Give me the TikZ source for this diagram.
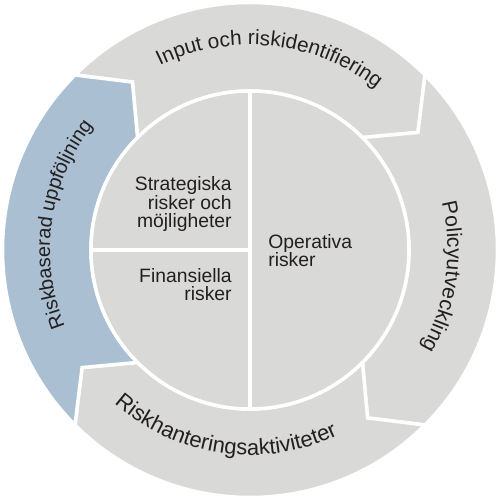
\documentclass[tikz,border=0pt]{standalone}
\usepackage{fontspec}
\setmainfont{Liberation Sans}
\usetikzlibrary{decorations.text}
\definecolor{ringgray}{RGB}{217,217,216}
\definecolor{ringblue}{RGB}{170,191,209}
\definecolor{ink}{RGB}{35,31,32}
\newcommand{\ringfont}[1]{\fontsize{#1}{12}\selectfont}

\begin{document}
\begin{tikzpicture}[
  segment/.style={draw=white, line width=0.07cm, line join=miter},
  divider/.style={draw=white, line width=0.07cm},
  label/.style={font=\fontsize{11}{10.8}\selectfont, text=ink, inner sep=0pt},
  ringtext/.style 2 args={decorate, decoration={text along path, text align=center, text color=ink, text={|\ringfont{#1}|#2}}}
]
  \useasboundingbox (-5,-5) rectangle (5,5);

  % Outer ring segments
  \foreach \a/\col in {135/ringgray, 45/ringgray, -45/ringgray, 225/ringblue}{
    \filldraw[segment, fill=\col] (\a:3.18) -- (\a-10:4.1) -- (\a:4.95)
      arc[start angle=\a, end angle=\a-90, radius=4.95]
      -- (\a-100:4.1) -- (\a-90:3.18)
      arc[start angle=\a-90, end angle=\a, radius=3.18] -- cycle;
  }

  % Ring labels
  \path[ringtext={11.8}{Input och riskidentifiering}] (150:4.1) arc[start angle=150, end angle=18, radius=4.1];
  \path[ringtext={12}{Policyutveckling}] (52:3.95) arc[start angle=52, end angle=-68, radius=3.95];
  \path[ringtext={12.5}{Riskhanteringsaktiviteter}] (192:4.1) arc[start angle=192, end angle=332, radius=4.1];
  \path[ringtext={11.3}{Riskbaserad uppföljning}] (242:4.0) arc[start angle=242, end angle=102, radius=4.0];

  % Inner circle
  \filldraw[fill=ringgray, draw=white, line width=0.07cm] (0,0) circle (3.18);
  \coordinate (ctop) at (90:3.18);
  \coordinate (cbottom) at (270:3.18);
  \coordinate (cleft) at (180:3.18);
  \coordinate (ccentre) at (0,0);
  \draw[divider] (ctop) -- (cbottom);
  \draw[divider] (cleft) -- (ccentre);

  % Risk categories
  \node[label, align=right, anchor=base east] (strat) at (-0.36,0.44) {Strategiska\\risker och\\möjligheter};
  \node[label, align=right, anchor=base east] (fin) at (-0.36,-1.02) {Finansiella\\risker};
  \node[label, align=left, anchor=base west] (oper) at (0.36,-0.34) {Operativa\\risker};

\end{tikzpicture}
\end{document}
